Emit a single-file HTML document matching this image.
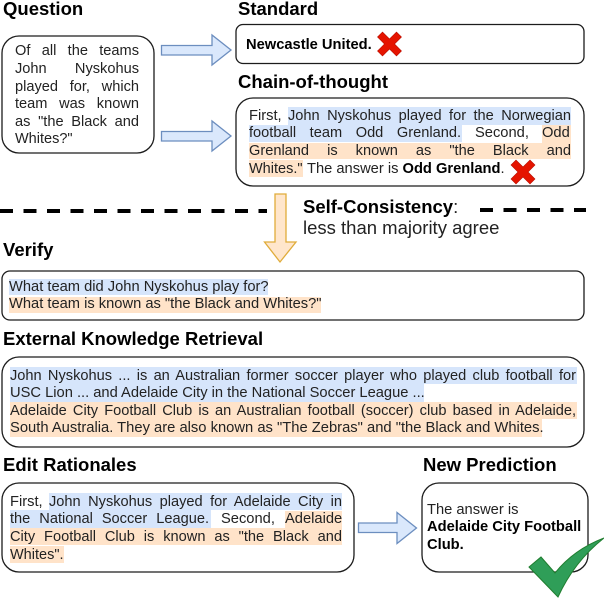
<!DOCTYPE html>
<html><head><meta charset="utf-8">
<style>
html,body{margin:0;padding:0;background:#fff}
#p{position:relative;width:604px;height:598px;overflow:hidden;background:#fff;font-family:"Liberation Sans",sans-serif;color:#222}
svg{position:absolute;left:0;top:0}
.l{position:absolute;height:20px;line-height:20px;font-size:14.6px;white-space:nowrap;text-align:justify;text-align-last:justify}
.f{position:absolute;height:20px;line-height:20px;font-size:14.7px;white-space:nowrap}
.h{position:absolute;height:20px;line-height:20px;font-size:18.5px;font-weight:bold;white-space:nowrap;color:#000}
b{color:#000}
</style></head><body><div id="p">
<svg width="604" height="598" viewBox="0 0 604 598">
<g fill="#d6e5fb">
<rect x="288" y="107" width="283" height="18"/><rect x="249" y="125" width="213" height="17"/>
<rect x="9" y="279" width="259" height="16"/>
<rect x="10" y="367" width="567" height="17"/><rect x="10" y="384" width="414" height="18"/>
<rect x="49" y="493" width="293" height="17"/><rect x="10" y="510" width="201" height="18"/>
</g>
<g fill="#ffe3c9">
<rect x="542" y="125" width="29" height="18"/><rect x="249" y="143" width="322" height="16"/><rect x="249" y="160" width="54" height="17"/>
<rect x="9" y="297" width="312" height="16"/>
<rect x="10" y="402" width="567" height="17"/><rect x="10" y="419" width="532" height="18"/>
<rect x="285" y="511" width="57" height="17"/><rect x="10" y="528" width="332" height="17"/><rect x="10" y="546" width="54" height="17"/>
</g>
<g fill="none" stroke="#1c1c1c" stroke-width="1.3">
<rect x="2" y="36" width="152" height="117" rx="17"/>
<rect x="236" y="24.5" width="348" height="39" rx="7"/>
<rect x="236" y="98" width="348" height="88" rx="17"/>
<rect x="2" y="271" width="582" height="49" rx="8"/>
<rect x="2" y="357" width="582" height="90" rx="17"/>
<rect x="2" y="483" width="352" height="89" rx="17"/>
<rect x="422" y="483" width="166" height="89" rx="17"/>
</g>
<g fill="#dae8fc" stroke="#6c8ebf" stroke-width="1.3">
<polygon points="161.5,45.5 212,45.5 212,35 231,50 212,65 212,55 161.5,55"/>
<polygon points="161.5,131.5 212,131.5 212,121 231,136 212,151 212,141 161.5,141"/>
<polygon points="358.5,523 397,523 397,512.5 416.5,528 397,543.5 397,532.5 358.5,532.5"/>
</g>
<polygon points="275,194 286,194 286,242 296,242 280,262 264.5,242 275,242" fill="#ffe6cc" stroke="#e0ac3a" stroke-width="1.3"/>
<line x1="0" y1="211" x2="267" y2="211" stroke="#000" stroke-width="4" stroke-dasharray="13 10.5"/>
<line x1="480" y1="210" x2="586" y2="210" stroke="#000" stroke-width="4" stroke-dasharray="13 10.5"/>
<g fill="#e51400" stroke="#b80f00" stroke-width=".6">
<polygon transform="translate(389.5,44)" points="-12,-7 -7,-12 0,-5 7,-12 12,-7 5,0 12,7 7,12 0,5 -7,12 -12,7 -5,0"/>
<polygon transform="translate(523,172)" points="-12,-7 -7,-12 0,-5 7,-12 12,-7 5,0 12,7 7,12 0,5 -7,12 -12,7 -5,0"/>
</g>
<path d="M604,538 C583,546 567,558 555,573 L541,557 L529,567 L558,597 C569,573 585,553 604,538 Z" fill="#2f9e58" stroke="#1f7d2e" stroke-width="1"/>
</svg>

<div class="h" style="left:3px;top:-1px">Question</div>
<div class="h" style="left:238px;top:-1px">Standard</div>
<div class="h" style="left:238px;top:72px">Chain-of-thought</div>
<div class="h" style="left:3px;top:240px">Verify</div>
<div class="h" style="left:3px;top:329px">External Knowledge Retrieval</div>
<div class="h" style="left:3px;top:455px">Edit Rationales</div>
<div class="h" style="left:423px;top:455px">New Prediction</div>

<div class="l" style="left:15px;width:124px;top:41px">Of all the teams</div>
<div class="l" style="left:15px;width:124px;top:59px">John Nyskohus</div>
<div class="l" style="left:15px;width:124px;top:77px">played for, which</div>
<div class="l" style="left:15px;width:124px;top:94px">team was known</div>
<div class="l" style="left:15px;width:124px;top:112px">as "the Black and</div>
<div class="f" style="left:15px;top:129px;font-size:14.5px">Whites?"</div>

<div class="f" style="left:246px;top:35px;font-weight:bold;color:#000">Newcastle United.</div>

<div class="f" style="left:249px;top:106px">First,</div>
<div class="l" style="left:288px;width:283px;top:106px">John Nyskohus played for the Norwegian</div>
<div class="l" style="left:249px;width:212px;top:123px">football team Odd Grenland.</div>
<div class="f" style="left:475px;top:123px">Second,</div>
<div class="f" style="left:542px;top:123px">Odd</div>
<div class="l" style="left:249px;width:322px;top:141px">Grenland is known as "the Black and</div>
<div class="f" style="left:249px;top:159px;font-size:14.5px">Whites."</div>
<div class="f" style="left:307px;top:159px">The answer is <b>Odd Grenland</b>.</div>

<div class="f" style="left:303px;top:197px;font-size:18.5px"><b>Self-Consistency</b>:</div>
<div class="f" style="left:303px;top:218px;font-size:18.5px">less than majority agree</div>

<div class="f" style="left:9px;top:277px">What team did John Nyskohus play for?</div>
<div class="f" style="left:9px;top:294px">What team is known as "the Black and Whites?"</div>

<div class="l" style="left:10px;width:566px;top:366px">John Nyskohus ... is an Australian former soccer player who played club football for</div>
<div class="f" style="left:10px;top:383px">USC Lion ... and Adelaide City in the National Soccer League ...</div>
<div class="l" style="left:10px;width:566px;top:401px">Adelaide City Football Club is an Australian football (soccer) club based in Adelaide,</div>
<div class="f" style="left:10px;top:418px;font-size:14.75px">South Australia. They are also known as "The Zebras" and "the Black and Whites.</div>

<div class="f" style="left:10px;top:492px">First,</div>
<div class="l" style="left:49px;width:293px;top:492px">John Nyskohus played for Adelaide City in</div>
<div class="l" style="left:10px;width:199px;top:509px">the National Soccer League.</div>
<div class="f" style="left:221px;top:509px">Second,</div>
<div class="f" style="left:285px;top:509px">Adelaide</div>
<div class="l" style="left:10px;width:332px;top:527px">City Football Club is known as "the Black and</div>
<div class="f" style="left:10px;top:545px;font-size:14.5px">Whites".</div>

<div class="f" style="left:427px;top:500px">The answer is</div>
<div class="f" style="left:427px;top:517px;font-weight:bold;color:#000">Adelaide City Football</div>
<div class="f" style="left:427px;top:535px;font-weight:bold;color:#000">Club.</div>
</div></body></html>
